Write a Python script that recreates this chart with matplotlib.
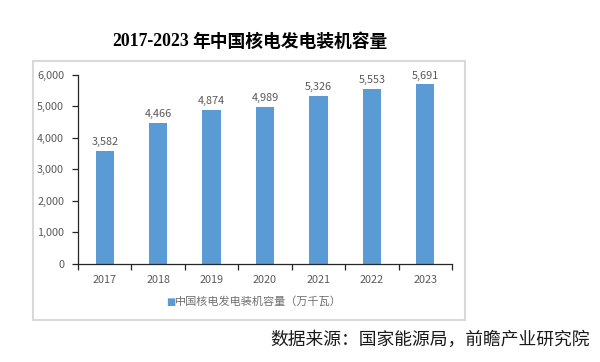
import numpy as np
import matplotlib.pyplot as plt
from matplotlib.patches import Rectangle

plt.rcParams['font.family'] = ['Noto Sans CJK SC', 'DejaVu Sans']

years = ['2017', '2018', '2019', '2020', '2021', '2022', '2023']
capacity = [3582, 4466, 4874, 4989, 5326, 5553, 5691]

W, H = 600, 362
fig = plt.figure(figsize=(W / 100, H / 100), dpi=100)

# light gray frame around the chart area
fig.patches.append(Rectangle((33 / W, 1 - 320 / H), (465 - 33) / W, (320 - 61) / H,
                             transform=fig.transFigure, fill=False,
                             edgecolor='#d9d9d9', linewidth=1.5))

ax = fig.add_axes([78 / W, 1 - 264 / H, (452 - 78) / W, (264 - 74.7) / H])
x = np.arange(len(years))
ax.bar(x, capacity, width=0.34, color='#5b9bd5', zorder=2)
for xi, v in zip(x, capacity):
    ax.text(xi, v + 120, f'{v:,}', ha='center', va='bottom', fontsize=7.8, color='#595959')

ax.set_xlim(-0.5, len(years) - 0.5)
ax.set_ylim(0, 6000)
ax.set_yticks(range(0, 6001, 1000))
ax.set_yticklabels([f'{v:,}' for v in range(0, 6001, 1000)])
ax.set_xticks(x)
ax.set_xticklabels(years)
ax.set_xticks(np.arange(-0.5, len(years)), minor=True)
ax.tick_params(axis='x', which='major', length=0, pad=8, labelsize=7.8, labelcolor='#595959')
ax.tick_params(axis='x', which='minor', length=4, color='#262626', width=0.9)
ax.tick_params(axis='y', length=4, color='#262626', width=0.9, pad=6,
               labelsize=7.8, labelcolor='#595959')
for s in ['top', 'right']:
    ax.spines[s].set_visible(False)
for s in ['left', 'bottom']:
    ax.spines[s].set_color('#262626')
    ax.spines[s].set_linewidth(0.9)

# legend
fig.text(166 / W, 1 - 302 / H, '■', color='#5b9bd5', fontsize=7, ha='left', va='center',
         family=['DejaVu Sans'])
fig.text(175 / W, 1 - 302 / H, '中国核电发电装机容量（万千瓦）', color='#707070', fontsize=8,
         ha='left', va='center')

# title
fig.text(112 / W, 1 - 42 / H, '2017-2023', fontsize=12.8, fontweight='bold',
         family=['Liberation Serif'], ha='left', va='center')
fig.text(192 / W, 1 - 42 / H, '年中国核电发电装机容量', fontsize=12.8, fontweight='bold',
         ha='left', va='center')

fig.text(590 / W, 1 - 340 / H, '数据来源：国家能源局，前瞻产业研究院', fontsize=12.8,
         color='#1a1a1a', ha='right', va='center')

fig.savefig('out.png', dpi=100)
